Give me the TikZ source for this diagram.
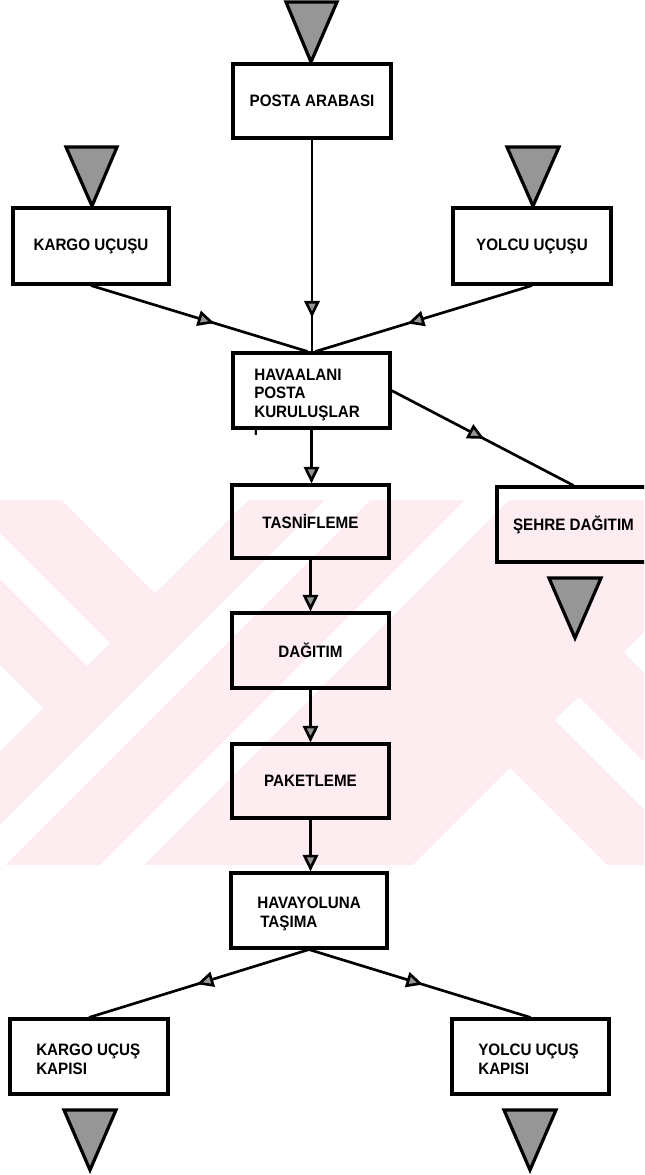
\documentclass[tikz,border=0pt]{standalone}
\usepackage{fontspec}
\setmainfont{Liberation Sans}[FakeStretch=0.92]
\usetikzlibrary{arrows.meta,decorations.markings}
\definecolor{wmpink}{RGB}{253,236,240}
\definecolor{stipple}{RGB}{150,150,150}
\tikzset{
  grayhead/.tip={Triangle[length=12.5pt,width=11.5pt,fill=stipple]},
  box/.style={draw=black, line width=2.3pt, inner sep=0pt,
    font=\bfseries\fontsize{12.4}{14}\selectfont, align=center},
  lbl/.style={inner sep=0pt, font=\bfseries\fontsize{12.4}{14}\selectfont,
    align=left, anchor=west},
  conn/.style={draw=black, line width=2pt},
  sink/.style={draw=black, line width=2.4pt, fill=stipple, line join=miter},
  midarrow/.style={postaction={decorate},
    decoration={markings, mark=at position #1 with {\arrow{grayhead}}}},
}
\begin{document}
\begin{tikzpicture}[x=0.75pt,y=-0.75pt]
\clip (0,0) rectangle (644,1175);
\fill[white] (0,0) rectangle (644,1175);

% faint background band with diagonal gaps
\fill[wmpink] (0,500) rectangle (644,865);
\begin{scope}[white]
  \fill (62,500) -- (155,593) -- (248,500) -- cycle;
  \fill (0,533) -- (110,643) -- (87,666) -- (0,579) -- cycle;
  \fill (0,665) -- (43,708) -- (0,751) -- cycle;
  \fill (0,825) -- (325,500) -- (370,500) -- (5,865) -- (0,865) -- cycle;
  \fill (465,500) -- (509,500) -- (144,865) -- (100,865) -- cycle;
  \fill (413,865) -- (510,768) -- (607,865) -- cycle;
  \fill (644,632) -- (624,652) -- (644,672) -- cycle;
  \fill (579,697) -- (644,762) -- (644,809) -- (555,720) -- cycle;
\end{scope}

% process boxes
\node[box, minimum width=118.5pt, minimum height=55.5pt] (posta) at (312,101) {POSTA ARABASI};
\node[box, minimum width=117pt, minimum height=57pt] (kargo) at (91,246) {KARGO UÇUŞU};
\node[box, minimum width=118.5pt, minimum height=57pt] (yolcu) at (532,246) {YOLCU UÇUŞU};
\node[box, minimum width=117.75pt, minimum height=56.25pt] (havaalani) at (311.5,390.5) {};
\node[lbl] (havaalanitxt) at (254,395) {HAVAALANI\\POSTA\\KURULUŞLAR};
\begin{scope}
  \clip (233,429.8) rectangle (280,445);
  \node[lbl, anchor=center] (havaalanirest) at (256,430) {I};
\end{scope}
\node[box, minimum width=117.75pt, minimum height=54.75pt] (tasnif) at (310.5,521.5) {TASNİFLEME};
\node[box, minimum width=117.75pt, minimum height=56.25pt] (dagitim) at (310.5,650.5) {DAĞITIM};
\node[box, minimum width=117.75pt, minimum height=55.5pt] (paket) at (310.5,781) {PAKETLEME};
\node[box, minimum width=117pt, minimum height=56.25pt] (havayolu) at (309,910.5) {};
\node[lbl] (havayolutxt) at (257,914) {HAVAYOLUNA\\\hspace*{2.25pt}TAŞIMA};
\node[box, minimum width=114.75pt, minimum height=56.25pt] (sehre) at (573.5,524.5) {ŞEHRE DAĞITIM};
\node[box, minimum width=118.5pt, minimum height=56.25pt] (kargokapi) at (89,1056.5) {};
\node[lbl] (kargokapitxt) at (36,1059.5) {KARGO UÇUŞ\\KAPISI};
\node[box, minimum width=117.75pt, minimum height=56.25pt] (yolcukapi) at (530.5,1056.5) {};
\node[lbl] (yolcukapitxt) at (478,1059.5) {YOLCU UÇUŞ\\KAPISI};

% storage triangles
\filldraw[sink] (286,2) -- (337,2) -- (311,62) -- cycle;
\filldraw[sink] (66,147) -- (117,147) -- (92,206) -- cycle;
\filldraw[sink] (507,147) -- (559,147) -- (533,206) -- cycle;
\filldraw[sink] (549,578) -- (601,578) -- (575,638) -- cycle;
\filldraw[sink] (64,1110) -- (116,1110) -- (90,1170) -- cycle;
\filldraw[sink] (504,1110) -- (556,1110) -- (530,1170) -- cycle;

% flows
\draw[conn, midarrow=0.84] (posta.south) -- (posta.south |- havaalani.north);
\draw[conn, midarrow=0.57] (kargo.south) -- ([xshift=-3pt]havaalani.north);
\draw[conn, midarrow=0.575] (yolcu.south) -- ([xshift=3pt]havaalani.north);
\draw[conn, midarrow=0.51] (havaalani.east) -- (sehre.north);
\draw[conn, -grayhead] (havaalani.south) -- (havaalani.south |- tasnif.north);
\draw[conn, -grayhead] (tasnif.south) -- (tasnif.south |- dagitim.north);
\draw[conn, -grayhead] (dagitim.south) -- (dagitim.south |- paket.north);
\draw[conn, -grayhead] (paket.south) -- (paket.south |- havayolu.north);
\draw[conn, midarrow=0.51] (havayolu.south) -- (kargokapi.north);
\draw[conn, midarrow=0.515] (havayolu.south) -- (yolcukapi.north);
\end{tikzpicture}
\end{document}
